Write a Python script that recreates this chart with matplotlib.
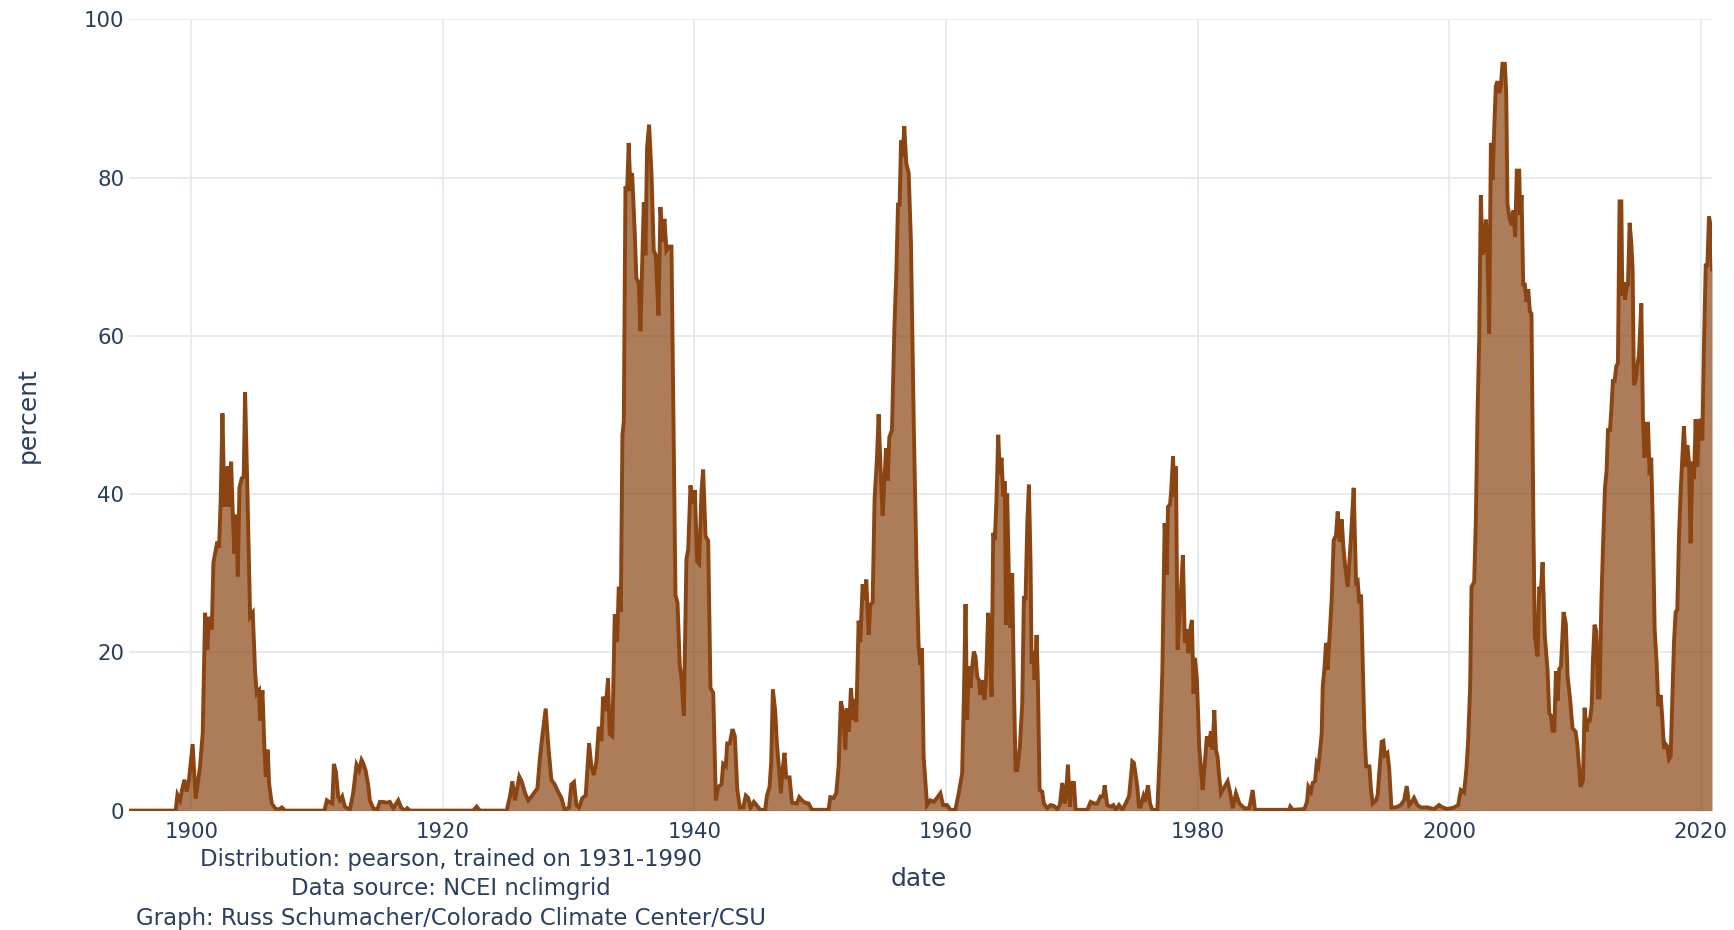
import matplotlib
matplotlib.use("Agg")
import matplotlib.pyplot as plt

# Percent of area in drought (monthly index), decimal-year dates
dates = [
    1895.0, 1898.75, 1898.89, 1899.1, 1899.23, 1899.44, 1899.63, 1899.81, 1900.1, 1900.34,
    1900.69, 1900.9, 1901.09, 1901.27, 1901.41, 1901.62, 1901.75, 1901.94, 1902.07, 1902.2,
    1902.33, 1902.47, 1902.63, 1902.76, 1902.89, 1903.02, 1903.16, 1903.29, 1903.42, 1903.55,
    1903.69, 1903.82, 1904.0, 1904.16, 1904.27, 1904.46, 1904.67, 1904.88, 1905.07, 1905.2,
    1905.38, 1905.46, 1905.65, 1905.81, 1905.92, 1906.07, 1906.18, 1906.39, 1906.66, 1906.9,
    1907.19, 1907.45, 1910.58, 1910.77, 1910.95,
    1911.2, 1911.33, 1911.49, 1911.67, 1911.8, 1911.99, 1912.2, 1912.6, 1912.86, 1913.13,
    1913.34, 1913.53, 1913.66, 1913.85, 1914.06, 1914.19, 1914.46, 1914.77, 1914.99, 1915.25,
    1915.52, 1915.78, 1916.05, 1916.45, 1916.71, 1916.98, 1917.16, 1917.37, 1922.41, 1922.68,
    1922.94, 1925.07, 1925.33, 1925.52, 1925.73, 1926.07, 1926.26, 1926.53, 1926.79, 1927.06,
    1927.32, 1927.51, 1927.72,
    1927.9, 1928.17, 1928.36, 1928.62, 1928.89, 1929.15, 1929.42, 1929.68, 1930.03, 1930.21,
    1930.42, 1930.61, 1930.82, 1931.09, 1931.35, 1931.62, 1931.8, 1931.99, 1932.2, 1932.39,
    1932.6, 1932.73, 1932.92, 1933.13, 1933.26, 1933.47, 1933.66, 1933.85, 1933.98, 1934.14,
    1934.27, 1934.38, 1934.51, 1934.64, 1934.77, 1934.91, 1935.04, 1935.25, 1935.38, 1935.57,
    1935.7, 1935.86, 1935.97, 1936.1, 1936.23, 1936.39, 1936.58, 1936.76, 1936.92, 1937.14,
    1937.29, 1937.45, 1937.61, 1937.77, 1937.98, 1938.17, 1938.49, 1938.65, 1938.83, 1938.97,
    1939.15, 1939.36, 1939.5, 1939.68, 1939.84, 1940.03, 1940.21, 1940.37, 1940.56, 1940.69,
    1940.88, 1941.09, 1941.27, 1941.49, 1941.7, 1941.88, 1942.15, 1942.28, 1942.49, 1942.6,
    1942.81, 1943.02, 1943.21, 1943.4, 1943.61, 1943.87, 1944.08, 1944.27, 1944.46, 1944.72,
    1945.07,
    1945.23, 1945.62, 1945.76, 1945.97, 1946.1, 1946.23, 1946.42, 1946.55, 1946.76, 1946.87,
    1947.0, 1947.16, 1947.29, 1947.56, 1947.75, 1948.14, 1948.33, 1948.54, 1948.81, 1949.07,
    1949.34, 1950.66, 1950.8, 1951.06, 1951.27, 1951.46, 1951.64, 1951.8, 1951.99, 1952.12,
    1952.28, 1952.44, 1952.6, 1952.73, 1952.86, 1953.05, 1953.18, 1953.37, 1953.5, 1953.66,
    1953.85, 1953.98, 1954.16, 1954.32, 1954.51, 1954.64, 1954.83, 1954.96, 1955.09, 1955.23,
    1955.36, 1955.49, 1955.7, 1955.89, 1956.05, 1956.18, 1956.31, 1956.42, 1956.55, 1956.68,
    1956.84, 1957.03, 1957.21, 1957.43, 1957.64, 1957.82, 1957.96, 1958.09, 1958.22, 1958.49,
    1958.75, 1959.02, 1959.28, 1959.55, 1959.76, 1960.08, 1960.34, 1960.74, 1961.01,
    1961.28, 1961.42, 1961.55, 1961.68, 1961.81, 1961.95, 1962.08, 1962.21, 1962.34, 1962.48,
    1962.61, 1962.74, 1962.87, 1963.06, 1963.19, 1963.35, 1963.48, 1963.62, 1963.75, 1963.88,
    1964.01, 1964.15, 1964.28, 1964.41, 1964.55, 1964.68, 1964.76, 1964.86, 1964.99, 1965.13,
    1965.26, 1965.39, 1965.53, 1965.66, 1965.87, 1966.06, 1966.19, 1966.32, 1966.46, 1966.59,
    1966.72, 1966.8, 1966.93, 1967.04, 1967.2, 1967.3, 1967.44, 1967.65, 1967.78, 1968.05,
    1968.31, 1968.58, 1968.84, 1969.05, 1969.24, 1969.43, 1969.56, 1969.69, 1969.85, 1969.98,
    1970.17, 1970.3, 1971.23, 1971.5, 1971.76, 1972.03, 1972.29, 1972.5, 1972.61, 1972.82,
    1973.09, 1973.3, 1973.48, 1973.75, 1974.02, 1974.28, 1974.55, 1974.68, 1974.81, 1974.94,
    1975.21, 1975.34, 1975.47, 1975.69, 1975.82, 1976.06, 1976.22, 1976.4, 1976.8, 1977.01,
    1977.2, 1977.38, 1977.54, 1977.65, 1977.81, 1977.91, 1978.05,
    1978.14, 1978.28, 1978.41, 1978.67, 1978.83, 1978.99, 1979.15, 1979.26, 1979.42, 1979.55,
    1979.68, 1979.79, 1979.95, 1980.13, 1980.4, 1980.53, 1980.74, 1980.88, 1981.06, 1981.19,
    1981.33, 1981.46, 1981.59, 1981.72, 1981.86, 1982.07, 1982.39, 1982.6, 1982.79, 1983.05,
    1983.32, 1983.71, 1984.11, 1984.38, 1984.56, 1987.29, 1987.37, 1987.56, 1988.49, 1988.7,
    1988.81, 1989.02, 1989.15, 1989.34, 1989.47, 1989.6, 1989.73, 1989.87, 1989.95, 1990.08,
    1990.21, 1990.34, 1990.48, 1990.66, 1990.82, 1991.0, 1991.14, 1991.3, 1991.46, 1991.59,
    1991.72, 1991.94, 1992.07, 1992.2, 1992.41, 1992.6, 1992.73, 1992.86, 1993.0, 1993.13,
    1993.26, 1993.4, 1993.66, 1993.79, 1993.93, 1994.19, 1994.32, 1994.46, 1994.64,
    1994.77, 1994.88, 1995.09, 1995.23, 1995.41, 1995.76, 1996.15, 1996.42, 1996.63, 1996.82,
    1997.0, 1997.21, 1997.48, 1997.75, 1998.28, 1998.81, 1999.2, 1999.47, 1999.87, 2000.4,
    2000.72, 2000.93, 2001.19, 2001.38, 2001.51, 2001.67, 2001.78, 2001.99, 2002.12, 2002.25,
    2002.39, 2002.52, 2002.65, 2002.79, 2002.92, 2003.05, 2003.18, 2003.32, 2003.45, 2003.58,
    2003.71, 2003.85, 2003.98, 2004.11, 2004.24, 2004.43, 2004.54, 2004.64, 2004.83, 2004.99,
    2005.12, 2005.25, 2005.38, 2005.57, 2005.65, 2005.76, 2005.89, 2006.02, 2006.15, 2006.29,
    2006.42, 2006.55, 2006.71, 2006.82, 2007.03, 2007.16, 2007.29, 2007.43, 2007.61, 2007.82,
    2007.96, 2008.09, 2008.22, 2008.36, 2008.49, 2008.62, 2008.75, 2008.89, 2009.1, 2009.28,
    2009.42, 2009.63, 2009.81,
    2010.05, 2010.19, 2010.32, 2010.45, 2010.64, 2010.77, 2010.93, 2011.03, 2011.19, 2011.33,
    2011.43, 2011.56, 2011.7, 2011.83, 2011.96, 2012.1, 2012.23, 2012.39, 2012.52, 2012.63,
    2012.79, 2012.89, 2013.02, 2013.16, 2013.29, 2013.42, 2013.55, 2013.69, 2013.77, 2013.9,
    2013.98, 2014.11, 2014.22, 2014.35, 2014.48, 2014.59, 2014.69, 2014.83, 2014.96, 2015.09,
    2015.28, 2015.41, 2015.54, 2015.68, 2015.81, 2015.94, 2016.07, 2016.21, 2016.34, 2016.5,
    2016.63, 2016.82, 2016.95, 2017.08, 2017.21, 2017.35, 2017.48, 2017.61, 2017.75, 2017.88,
    2018.01, 2018.14, 2018.28, 2018.41, 2018.54, 2018.67, 2018.81, 2018.94, 2019.07, 2019.2,
    2019.34, 2019.47, 2019.6, 2019.73, 2019.87, 2020.0, 2020.13, 2020.27, 2020.4, 2020.53,
    2020.66, 2020.8, 2020.9,
]

percent = [
    0, 0, 2.0, 1.3, 2.4, 3.9, 2.4, 3.9, 8.4, 1.5,
    5.6, 9.8, 25.0, 20.3, 24.5, 22.9, 31.3, 33.0, 34.0, 33.2,
    39.3, 50.2, 38.4, 41.4, 43.5, 38.4, 44.1, 37.6, 32.5, 37.4,
    29.6, 40.8, 42.0, 42.2, 52.9, 40.0, 24.5, 25.0, 17.4, 14.8,
    15.2, 11.4, 15.2, 7.7, 4.3, 7.7, 3.4, 0.9, 0.3, 0.1,
    0.4, 0, 0, 1.3, 1.1,
    0.9, 5.9, 4.9, 1.8, 1.3, 1.8, 0.5, 0.1, 2.2, 5.8,
    5.1, 6.4, 6.0, 5.1, 3.2, 1.3, 0.3, 0.1, 1.1, 1.1,
    1.0, 1.1, 0.3, 1.3, 0.3, 0, 0.3, 0, 0, 0.5,
    0, 0, 1.8, 3.7, 1.3, 4.3, 3.7, 2.2, 1.3, 1.8,
    2.4, 2.8, 6.8,
    9.4, 12.9, 8.5, 3.9, 3.3, 2.4, 1.6, 0.1, 0.4, 3.3,
    3.6, 0.7, 0.4, 1.6, 1.9, 8.5, 5.6, 4.5, 6.2, 10.6,
    8.8, 14.4, 12.6, 16.7, 9.7, 9.4, 24.8, 21.3, 28.3, 25.1,
    47.5, 49.2, 78.9, 78.3, 84.4, 78.3, 80.6, 73.1, 67.3, 66.7,
    60.6, 70.2, 76.9, 70.2, 83.8, 86.7, 80.6, 70.8, 70.2, 62.6,
    76.3, 71.9, 74.8, 70.8, 71.3, 71.3, 27.2, 26.3, 18.4, 16.7,
    12.0, 31.8, 33.0, 41.1, 38.8, 40.5, 31.5, 31.2, 40.5, 43.1,
    34.7, 34.1, 15.5, 14.9, 1.3, 3.0, 3.3, 5.9, 5.6, 8.5,
    8.5, 10.3, 9.4, 2.7, 0.4, 0.4, 1.9, 1.6, 0.4, 1.1,
    0.4,
    0.1, 0.1, 1.9, 3.0, 6.2, 15.3, 12.6, 8.5, 4.5, 2.2,
    5.1, 7.3, 4.2, 4.2, 1.0, 0.9, 1.7, 1.3, 1.0, 0.9,
    0.1, 0.1, 1.7, 1.6, 2.2, 5.6, 13.8, 12.6, 7.7, 12.9,
    10.0, 15.5, 11.5, 14.1, 11.2, 24.0, 21.3, 28.6, 26.6, 29.2,
    22.2, 26.0, 26.3, 39.4, 44.6, 50.1, 41.7, 37.3, 41.4, 45.8,
    41.7, 47.2, 48.1, 60.9, 68.1, 76.6, 76.6, 84.7, 82.7, 86.5,
    81.8, 80.6, 71.9, 49.2, 31.8, 20.8, 18.4, 20.5, 6.8, 0.7,
    1.3, 1.1, 1.6, 2.2, 0.7, 0.7, 0.1, 0.1, 2.2,
    4.7, 14.4, 26.1, 11.5, 18.2, 15.5, 18.2, 20.1, 19.5, 16.9,
    16.5, 14.6, 16.5, 14.0, 16.9, 25.0, 21.6, 14.4, 35.1, 34.2,
    39.3, 47.5, 42.5, 44.6, 39.7, 41.6, 23.5, 40.1, 30.0, 23.1,
    30.0, 16.5, 5.1, 5.1, 8.1, 13.6, 27.1, 26.6, 36.3, 41.2,
    31.3, 18.6, 20.1, 16.5, 22.2, 16.5, 2.6, 2.4, 0.9, 0.3,
    0.7, 0.6, 0.2, 0.7, 3.5, 0.9, 2.6, 5.8, 0.5, 3.5,
    3.5, 0.1, 0.1, 1.1, 0.9, 0.9, 1.8, 1.8, 3.2, 0.7,
    0.5, 0.7, 0.1, 0.7, 0.1, 0.9, 1.8, 3.9, 6.2, 6.0,
    3.0, 0.5, 0.5, 1.8, 1.1, 3.2, 0.9, 0.1, 0.1, 7.9,
    17.8, 36.3, 29.8, 38.4, 38.7, 40.6, 44.8,
    39.7, 43.5, 20.3, 27.5, 32.3, 21.2, 22.9, 19.9, 22.9, 24.1,
    14.8, 19.3, 16.5, 8.1, 2.6, 5.1, 9.4, 8.1, 10.0, 7.7,
    12.7, 7.7, 6.8, 4.3, 2.2, 2.8, 3.7, 2.2, 0.3, 2.2,
    0.9, 0.3, 0.3, 2.6, 0.1, 0.1, 0.5, 0.1, 0.2, 1.1,
    3.0, 2.4, 3.5, 3.7, 6.0, 5.6, 7.5, 9.8, 15.7, 17.8,
    21.2, 17.8, 21.6, 26.6, 34.2, 34.7, 37.8, 34.0, 36.8, 33.4,
    31.1, 28.3, 31.5, 34.7, 40.8, 28.8, 29.0, 26.2, 27.3, 18.6,
    10.2, 5.6, 5.6, 2.6, 0.9, 1.3, 2.0, 5.1, 8.7,
    8.8, 7.0, 7.3, 5.4, 0.4, 0.4, 0.7, 1.3, 3.1, 0.7,
    1.0, 1.6, 0.7, 0.4, 0.4, 0.2, 0.7, 0.4, 0.2, 0.4,
    0.7, 2.6, 2.3, 5.4, 8.8, 15.7, 28.3, 28.9, 36.4, 49.6,
    59.6, 77.8, 70.3, 70.9, 74.7, 70.9, 60.3, 84.4, 79.7, 86.0,
    91.6, 92.2, 90.7, 91.6, 94.4, 94.4, 90.7, 76.6, 74.7, 74.0,
    75.9, 72.5, 80.9, 80.9, 75.3, 77.8, 66.5, 66.5, 64.3, 65.9,
    63.1, 62.8, 34.5, 22.0, 19.5, 28.3, 27.6, 31.4, 22.0, 17.9,
    12.3, 12.0, 10.1, 10.1, 17.6, 13.9, 17.9, 18.2, 25.1, 23.6,
    17.0, 13.9, 10.4,
    10.0, 8.4, 5.7, 3.0, 3.8, 13.0, 10.0, 11.4, 11.4, 13.2,
    18.9, 23.5, 22.7, 14.3, 14.3, 26.2, 33.2, 40.8, 43.0, 48.1,
    48.1, 50.5, 54.3, 54.3, 56.2, 56.5, 77.0, 77.0, 65.1, 66.8,
    64.6, 66.2, 66.5, 74.3, 71.9, 68.4, 53.8, 54.3, 56.2, 57.6,
    64.1, 49.5, 44.6, 48.9, 48.9, 42.4, 44.6, 34.9, 23.0, 18.6,
    13.2, 14.6, 11.6, 7.8, 8.4, 8.1, 6.5, 6.8, 14.3, 21.4,
    25.1, 25.4, 34.9, 40.3, 44.6, 48.6, 43.5, 46.2, 44.1, 33.8,
    44.1, 41.9, 49.5, 43.5, 48.9, 49.5, 46.8, 59.7, 68.9, 68.9,
    75.1, 73.8, 68.4,
]

x_ticks = [1900, 1920, 1940, 1960, 1980, 2000, 2020]
y_ticks = [0, 20, 40, 60, 80, 100]
x_title = "date"
y_title = "percent"
footer_lines = [
    "Distribution: pearson, trained on 1931-1990",
    "Data source: NCEI nclimgrid",
    "Graph: Russ Schumacher/Colorado Climate Center/CSU",
]

LINE = "#8B4513"
TEXT = "#2a3f5f"
GRID = "#E4E9F1"
FONT = ["DejaVu Sans"]

W, H = 1734, 930
fig = plt.figure(figsize=(W / 100, H / 100), dpi=100)
fig.patch.set_facecolor("white")

left, right, top, bottom = 128.5, 1712.0, 19.5, 810.6
ax = fig.add_axes([left / W, 1 - bottom / H, (right - left) / W, (bottom - top) / H])

ax.fill_between(dates, percent, 0, color=LINE, alpha=0.7, linewidth=0, zorder=2)
ax.plot(dates, percent, color=LINE, linewidth=2.8, zorder=3, solid_joinstyle="miter")

ax.set_xlim(dates[0], dates[-1])
ax.set_ylim(0, 100)

ax.set_xticks(x_ticks)
ax.set_xticklabels([str(t) for t in x_ticks])
ax.set_yticks(y_ticks)
ax.set_yticklabels([str(t) for t in y_ticks])
ax.grid(True, color=GRID, linewidth=1.3, zorder=0)
ax.set_axisbelow(True)
for s in ax.spines.values():
    s.set_visible(False)
ax.tick_params(axis="both", length=0, colors=TEXT, labelsize=15.3)
ax.tick_params(axis="x", pad=8)
ax.tick_params(axis="y", pad=3)
for lab in ax.get_xticklabels() + ax.get_yticklabels():
    lab.set_family(FONT)

fig.text(919 / W, 1 - 879 / H, x_title, ha="center", va="center",
         fontsize=18, color=TEXT, family=FONT)
fig.text(28 / W, 1 - 415 / H, y_title, ha="center", va="center", rotation=90,
         fontsize=18, color=TEXT, family=FONT)

for i, line in enumerate(footer_lines):
    fig.text(451 / W, 1 - (859 + 29.5 * i) / H, line, ha="center", va="center",
             fontsize=16.4, color=TEXT, family=FONT)

fig.savefig("out.png", dpi=100, facecolor="white")
